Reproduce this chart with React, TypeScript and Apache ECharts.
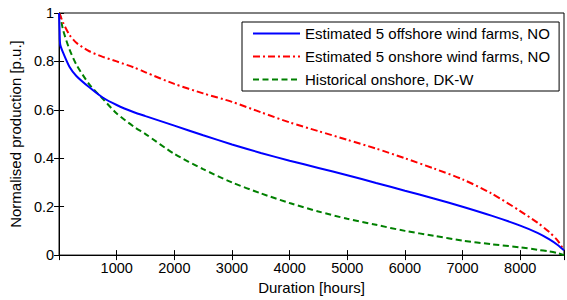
import React, { useEffect, useRef } from "react";
import * as echarts from "echarts";

const hours = [0, 10, 20, 70, 180, 300, 525, 750, 1000, 1300, 1500, 2000, 2500, 3000, 3500, 4000, 4500, 5000, 5500, 6000, 6500, 7000, 7500, 8000, 8300, 8500, 8650, 8760];
const offshoreNO = [1.0, 0.92, 0.87, 0.836, 0.778, 0.74, 0.693, 0.652, 0.62, 0.59, 0.574, 0.535, 0.495, 0.457, 0.422, 0.39, 0.36, 0.33, 0.298, 0.266, 0.234, 0.2, 0.163, 0.122, 0.092, 0.066, 0.042, 0.02];
const onshoreNO = [1.0, 0.995, 0.99, 0.96, 0.91, 0.877, 0.842, 0.82, 0.8, 0.775, 0.755, 0.707, 0.668, 0.633, 0.59, 0.548, 0.512, 0.476, 0.44, 0.4, 0.358, 0.313, 0.255, 0.182, 0.134, 0.096, 0.06, 0.02];
const historicalDKW = [1.0, 0.995, 0.99, 0.93, 0.85, 0.787, 0.705, 0.648, 0.585, 0.53, 0.5, 0.418, 0.355, 0.3, 0.255, 0.215, 0.18, 0.15, 0.125, 0.1, 0.08, 0.06, 0.045, 0.032, 0.022, 0.015, 0.008, 0.0];

const seriesNames = [
  "Estimated 5 offshore wind farms, NO",
  "Estimated 5 onshore wind farms, NO",
  "Historical onshore, DK-W",
];

const FONT = "'Liberation Sans', Arial, sans-serif";

export default function App() {
  const ref = useRef<HTMLDivElement>(null);
  useEffect(() => {
    if (!ref.current) return;
    const chart = echarts.init(ref.current, undefined, { renderer: "svg" });
    const pairs = (ys: number[]) => hours.map((h, i) => [h, ys[i]]);
    const tickStyle = { show: true, inside: true, length: 5, lineStyle: { color: "#000", width: 1 } };
    const axisLine = { show: true, lineStyle: { color: "#000", width: 1 } };
    chart.setOption({
      animation: false,
      backgroundColor: "#fff",
      textStyle: { fontFamily: FONT },
      grid: {
        left: 58,
        right: 1,
        top: 13,
        bottom: 43,
        show: true,
        borderColor: "#000",
        borderWidth: 1,
        containLabel: false,
      },
      legend: {
        left: 242,
        top: 22,
        orient: "vertical",
        backgroundColor: "#fff",
        borderColor: "#000",
        borderWidth: 1,
        borderRadius: 0,
        padding: [4, 9, 4, 10],
        itemWidth: 47,
        itemHeight: 14,
        itemGap: 8,
        itemStyle: { opacity: 0 },
        textStyle: { fontFamily: FONT, fontSize: 15, color: "#000", lineHeight: 15 },
        data: seriesNames,
      },
      xAxis: [
        {
          type: "value",
          min: 0,
          max: 8760,
          interval: 1000,
          position: "bottom",
          name: "Duration [hours]",
          nameLocation: "middle",
          nameGap: 24,
          nameTextStyle: { fontFamily: FONT, fontSize: 15, color: "#000" },
          axisLine,
          axisTick: tickStyle,
          splitLine: { show: false },
          axisLabel: {
            fontFamily: FONT,
            fontSize: 14.5,
            color: "#000",
            margin: 5,
            formatter: (v: number) => (v === 0 || v % 1000 !== 0 ? "" : String(v)),
          },
        },
        {
          type: "value",
          min: 0,
          max: 8760,
          interval: 1000,
          position: "top",
          axisLine,
          axisTick: tickStyle,
          splitLine: { show: false },
          axisLabel: { show: false },
        },
      ],
      yAxis: [
        {
          type: "value",
          min: 0,
          max: 1,
          interval: 0.2,
          position: "left",
          name: "Normalised production [p.u.]",
          nameLocation: "middle",
          nameGap: 36,
          nameTextStyle: { fontFamily: FONT, fontSize: 15, color: "#000" },
          axisLine,
          axisTick: tickStyle,
          splitLine: { show: false },
          axisLabel: {
            fontFamily: FONT,
            fontSize: 14.5,
            color: "#000",
            margin: 5,
            formatter: (v: number) => String(Math.round(v * 10) / 10),
          },
        },
        {
          type: "value",
          min: 0,
          max: 1,
          interval: 0.2,
          position: "right",
          axisLine,
          axisTick: tickStyle,
          splitLine: { show: false },
          axisLabel: { show: false },
        },
      ],
      series: [
        {
          name: seriesNames[0],
          type: "line",
          data: pairs(offshoreNO),
          symbol: "none",
          showSymbol: false,
          smooth: 0.25,
          lineStyle: { color: "#0000ff", width: 2, type: "solid" },
          itemStyle: { color: "#0000ff" },
          z: 3,
        },
        {
          name: seriesNames[1],
          type: "line",
          data: pairs(onshoreNO),
          symbol: "none",
          showSymbol: false,
          smooth: 0.25,
          lineStyle: { color: "#ff0000", width: 2, type: [7, 3, 2, 3] },
          itemStyle: { color: "#ff0000" },
          z: 2,
        },
        {
          name: seriesNames[2],
          type: "line",
          data: pairs(historicalDKW),
          symbol: "none",
          showSymbol: false,
          smooth: 0.25,
          lineStyle: { color: "#008000", width: 2, type: [6, 3.5] },
          itemStyle: { color: "#008000" },
          z: 1,
        },
      ],
    });
    return () => chart.dispose();
  }, []);
  return (
    <div
      ref={ref}
      style={{ position: "absolute", left: 0, top: 0, width: 567, height: 300, background: "#fff" }}
    />
  );
}
